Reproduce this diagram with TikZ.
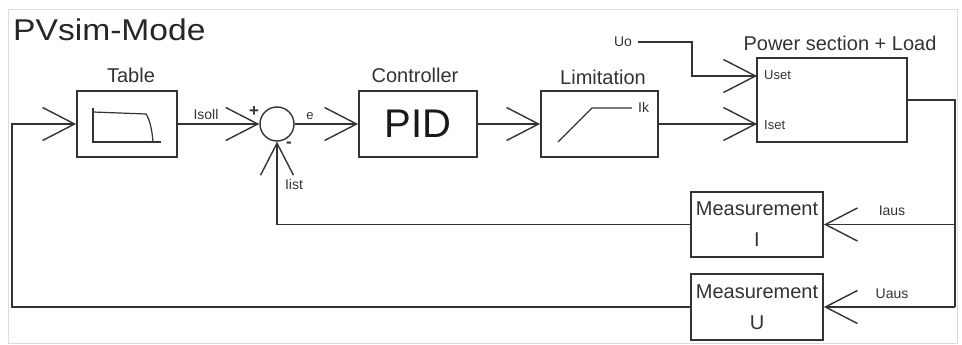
\documentclass[tikz,border=0pt]{standalone}
\usepackage{fontspec}
\setmainfont{Liberation Sans}
\usetikzlibrary{arrows.meta,calc}
\definecolor{ln}{HTML}{333333}
\definecolor{frm}{HTML}{DCDCDC}
\tikzset{
  blk/.style={draw=ln, line width=1.8pt, rectangle, inner sep=0pt, fill=white},
  wire/.style={draw=ln, line width=1.4pt},
  arr/.style={wire, -{Straight Barb[length=32pt, width=33pt, line width=1.4pt]}},
  lbl/.style={font=\fontsize{20}{22}\selectfont, text=ln, inner sep=0pt},
  sml/.style={font=\fontsize{14}{16}\selectfont, text=ln, inner sep=0pt},
  tiny/.style={font=\fontsize{13}{15}\selectfont, text=ln, inner sep=0pt},
}
\begin{document}
\begin{tikzpicture}[x=1pt, y=-1pt]
\useasboundingbox (0,0) rectangle (962,345);
\draw[frm, line width=1pt] (8,10) rectangle (957,343);

\node[anchor=west, inner sep=0pt, text=black!85] (title) at (13,30)
  {\scalebox{1.12}[1]{\fontsize{30}{32}\selectfont PVsim-Mode}};

% blocks
\node[blk, minimum width=100pt, minimum height=66pt] (tab) at (127,124) {};
\node[lbl] (tablbl) at (131,75) {Table};
\node[draw=ln, line width=1.4pt, circle, minimum size=34pt, inner sep=0pt] (sum) at (277,124) {};
\node[blk, minimum width=118pt, minimum height=66pt,
      font=\fontsize{40}{42}\selectfont, text=black!90] (pid) at (418,124) {PID};
\node[lbl] (ctrllbl) at (415,75) {Controller};
\node[blk, minimum width=117pt, minimum height=66pt] (lim) at (599.5,124) {};
\node[lbl] (limlbl) at (603,77) {Limitation};
\node[blk, minimum width=150pt, minimum height=84pt] (pow) at (832,100) {};
\node[lbl] (powlbl) at (840,43) {Power section + Load};
\node[blk, minimum width=132pt, minimum height=65pt, align=center,
      font=\fontsize{20}{31}\selectfont, text=ln] (mi) at (757,224.5) {Measurement\\I};
\node[blk, minimum width=132pt, minimum height=66pt, align=center,
      font=\fontsize{20}{31}\selectfont, text=ln] (mu) at (757,307) {Measurement\\U};

% inner drawings
\draw[wire, line width=1.2pt] (93,108) -- (93,142) -- (161,142);
\draw[wire, line width=1.2pt] (93,112) -- (146,114) .. controls (150,120) and (152,130) .. (153,142);
\draw[wire, line width=1.2pt] (558,142) -- (592,108) -- (632,108);
\node[sml, anchor=west] (ik) at (638,107) {Ik};

% inputs of power block
\coordinate (uset) at (757,76);
\coordinate (iset) at (757,124);
\node[tiny, anchor=west] (usetl) at (764,75) {Uset};
\node[tiny, anchor=west] (isetl) at (764,125) {Iset};
\node[sml] (uo) at (623,42) {Uo};
\coordinate (ubend) at (692,76);

% connectors
\draw[arr] (tab.east) -- (sum.west);
\node[sml] (isoll) at (206,114) {Isoll};
\node[font=\bfseries\fontsize{17}{18}\selectfont, text=ln, inner sep=0pt] (plus) at (254,112) {+};
\node[font=\bfseries\fontsize{17}{18}\selectfont, text=ln, inner sep=0pt] (minus) at (289,145) {-};
\draw[arr] (sum.east) -- (pid.west);
\node[tiny] (e) at (310,116) {e};
\draw[arr] (pid.east) -- (lim.west);
\draw[arr] (lim.east) -- (iset);
\draw[arr] (uo.east) ++(6,0) -| (ubend) -- (uset);

\coordinate (rtop) at (955,100);
\coordinate (rmi) at (955,224.5);
\coordinate (rmu) at (955,307);
\draw[wire] (pow.east) -- (rtop) -- (rmu);
\draw[arr] (rmi) -- (mi.east);
\draw[arr] (rmu) -- (mu.east);
\node[sml] (iaus) at (892,211) {Iaus};
\node[sml] (uaus) at (892,294) {Uaus};

\coordinate (lbot) at (12,307);
\coordinate (ltop) at (12,124);
\draw[arr] (mu.west) -- (lbot) -- (ltop) -- (tab.west);

\coordinate (sbot) at (277,224.5);
\draw[arr] (mi.west) -- (sbot) -- (sum.south);
\node[sml] (iist) at (294,184) {Iist};
\end{tikzpicture}
\end{document}
